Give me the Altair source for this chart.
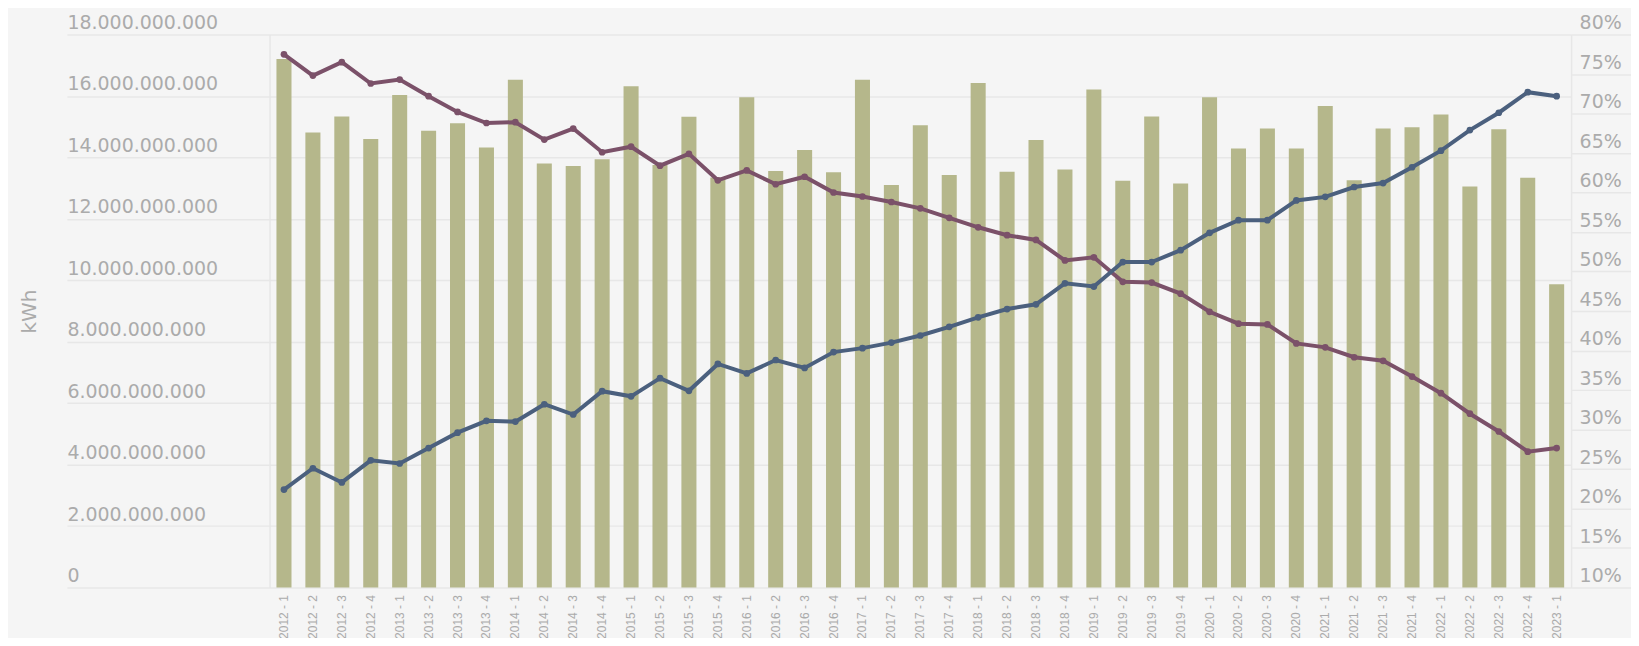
import altair as alt
import pandas as pd

quarters = [
    "2012 - 1", "2012 - 2", "2012 - 3", "2012 - 4",
    "2013 - 1", "2013 - 2", "2013 - 3", "2013 - 4",
    "2014 - 1", "2014 - 2", "2014 - 3", "2014 - 4",
    "2015 - 1", "2015 - 2", "2015 - 3", "2015 - 4",
    "2016 - 1", "2016 - 2", "2016 - 3", "2016 - 4",
    "2017 - 1", "2017 - 2", "2017 - 3", "2017 - 4",
    "2018 - 1", "2018 - 2", "2018 - 3", "2018 - 4",
    "2019 - 1", "2019 - 2", "2019 - 3", "2019 - 4",
    "2020 - 1", "2020 - 2", "2020 - 3", "2020 - 4",
    "2021 - 1", "2021 - 2", "2021 - 3", "2021 - 4",
    "2022 - 1", "2022 - 2", "2022 - 3", "2022 - 4",
    "2023 - 1",
]

# kWh in billions
kwh_bn = [
    17.20, 14.81, 15.33, 14.60,
    16.03, 14.87, 15.11, 14.32,
    16.53, 13.80, 13.72, 13.94,
    16.32, 13.75, 15.32, 13.35,
    15.96, 13.56, 14.24, 13.52,
    16.53, 13.10, 15.05, 13.43,
    16.42, 13.53, 14.57, 13.61,
    16.21, 13.24, 15.33, 13.15,
    15.96, 14.29, 14.94, 14.29,
    15.67, 13.26, 14.94, 14.98,
    15.40, 13.05, 14.92, 13.34,
    9.87,
]

# share in percent (right axis)
share_purple = [
    77.5, 74.8, 76.5, 73.8,
    74.3, 72.2, 70.2, 68.8,
    68.9, 66.7, 68.1, 65.1,
    65.8, 63.4, 64.9, 61.55,
    62.8, 61.05, 62.0, 60.0,
    59.5, 58.8, 58.0, 56.8,
    55.6, 54.6, 54.0, 51.4,
    51.8, 48.7, 48.6, 47.2,
    44.9, 43.4, 43.3, 40.9,
    40.4, 39.15, 38.7, 36.7,
    34.6, 32.0, 29.75, 27.2,
    27.65,
]
share_blue = [
    22.4, 25.1, 23.3, 26.1,
    25.7, 27.65, 29.6, 31.1,
    31.0, 33.2, 31.9, 34.85,
    34.2, 36.5, 34.9, 38.3,
    37.1, 38.8, 37.8, 39.8,
    40.3, 41.0, 41.9, 43.0,
    44.2, 45.25, 45.85, 48.5,
    48.1, 51.2, 51.2, 52.7,
    54.9, 56.5, 56.5, 59.0,
    59.45, 60.7, 61.2, 63.2,
    65.3, 67.9, 70.1, 72.7,
    72.2,
]

series_names = ["A", "B"]
series_colors = ["#7b5169", "#4b607e"]

left_ticks = [0, 2e9, 4e9, 6e9, 8e9, 10e9, 12e9, 14e9, 16e9, 18e9]
right_ticks = [0.10, 0.15, 0.20, 0.25, 0.30, 0.35, 0.40, 0.45, 0.50, 0.55, 0.60, 0.65, 0.70, 0.75, 0.80]

BAR = "#b5b78b"
GRID = "#e7e7e7"
TXT = "#ababab"
FONT = "DejaVu Sans"

df_bar = pd.DataFrame({"quarter": quarters, "kwh": [v * 1e9 for v in kwh_bn]})
df_line = pd.DataFrame({
    "quarter": quarters * 2,
    "share": [v / 100 for v in share_purple] + [v / 100 for v in share_blue],
    "series": [series_names[0]] * len(quarters) + [series_names[1]] * len(quarters),
})

x_enc = alt.X(
    "quarter:N", sort=quarters, title=None,
    scale=alt.Scale(paddingInner=0.48, paddingOuter=0.24),
    axis=alt.Axis(labelAngle=270, labelAlign="right", labelBaseline="middle",
                  labelPadding=7, ticks=False, domain=False, grid=False,
                  labelFont="Liberation Sans", labelFontSize=12, labelColor=TXT,
                  labelOverlap=False),
)

bars = alt.Chart(df_bar).mark_bar(color=BAR).encode(
    x=x_enc,
    y=alt.Y("kwh:Q", title="kWh",
            scale=alt.Scale(domain=[0, 18e9], nice=False),
            axis=alt.Axis(orient="left", values=left_ticks,
                          labelExpr="replace(format(datum.value, ','), regexp(',', 'g'), '.')",
                          tickSize=203, tickColor=GRID, tickWidth=1.5,
                          labelAlign="left", labelBaseline="alphabetic", labelPadding=0,
                          labelOffset=-6, labelFont=FONT, labelFontSize=19, labelColor=TXT,
                          domainColor=GRID, domainWidth=1.5,
                          grid=True, gridColor=GRID, gridWidth=1.5,
                          titleFont=FONT, titleFontSize=20, titleFontWeight="normal",
                          titleColor=TXT, titleAngle=270, titleAlign="center",
                          titleBaseline="middle", titleX=-240, titleY=277)),
)

lines = alt.Chart(df_line).mark_line(
    strokeWidth=4, point=alt.OverlayMarkDef(size=45, filled=True)
).encode(
    x=x_enc,
    y=alt.Y("share:Q", title=None,
            scale=alt.Scale(domain=[0.10, 0.80], nice=False, zero=False),
            axis=alt.Axis(orient="right", values=right_ticks, format=".0%",
                          tickSize=65, tickColor=GRID, tickWidth=1.5,
                          labelAlign="left", labelBaseline="alphabetic", labelPadding=-57,
                          labelOffset=-6, labelFont=FONT, labelFontSize=19, labelColor=TXT,
                          domainColor=GRID, domainWidth=1.5, grid=False)),
    color=alt.Color("series:N", scale=alt.Scale(domain=series_names, range=series_colors), legend=None),
    order=alt.Order("series:N"),
)

chart = alt.layer(bars, lines).resolve_scale(y="independent").properties(
    width=1304, height=554,
    autosize=alt.AutoSizeParams(type="none"),
    padding={"left": 262, "top": 26, "right": 60, "bottom": 50},
    background="#f5f5f5",
).configure_view(stroke=None)

chart.save("out.html", embed_options={"renderer": "svg", "actions": False})
